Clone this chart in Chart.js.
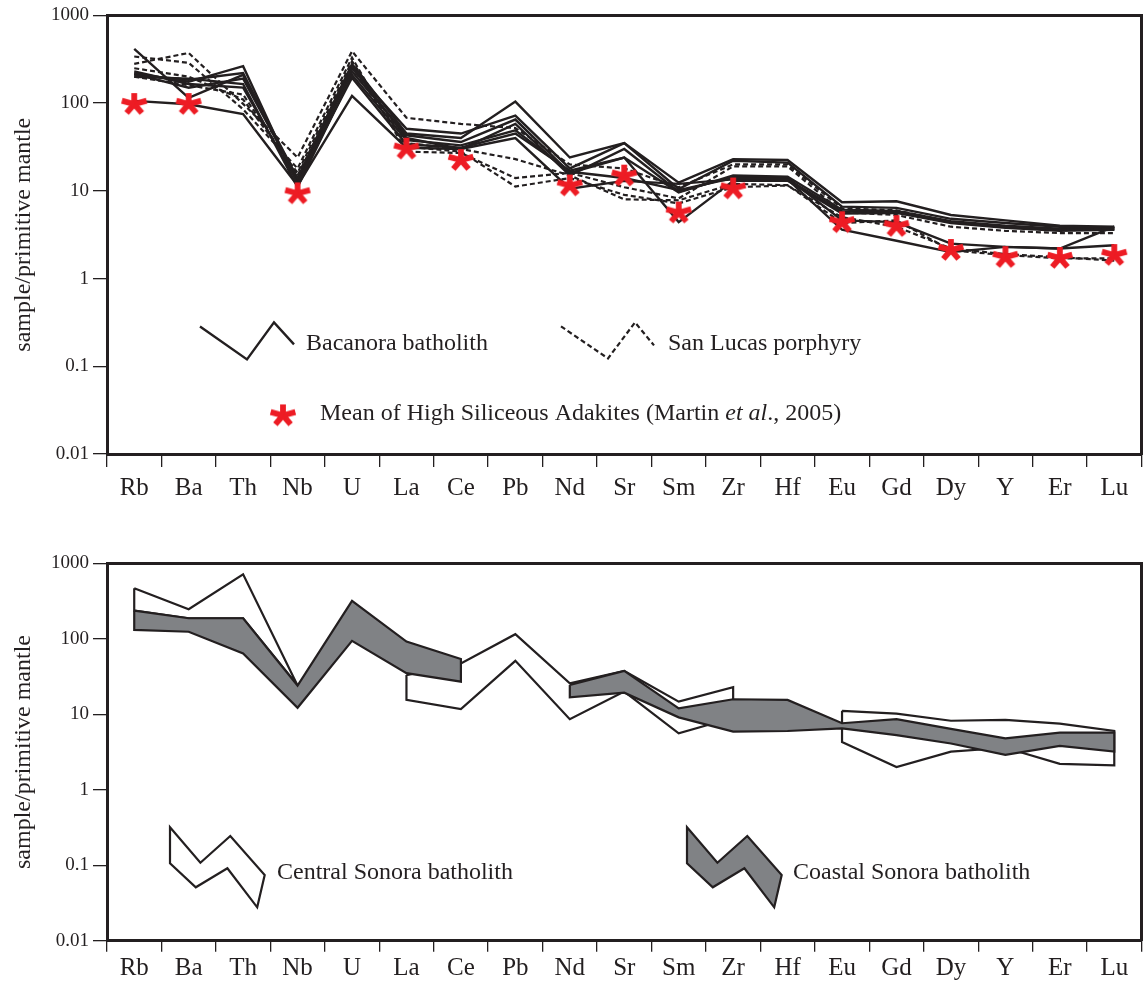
<!DOCTYPE html>
<html>
<head>
<meta charset="utf-8">
<script src="https://cdn.jsdelivr.net/npm/chart.js@4/dist/chart.umd.min.js"></script>
<style>
  html, body { margin: 0; padding: 0; background: #fff; }
  #wrap { position: relative; width: 1143px; height: 984px; }
  canvas { position: absolute; left: 0; }
  #spiderTop { top: 0; }
  #spiderBottom { top: 520px; }
</style>
</head>
<body>
<div id="wrap">
  <canvas id="spiderTop" width="1143" height="510"></canvas>
  <canvas id="spiderBottom" width="1143" height="464"></canvas>
</div>
<script>
// Trace elements, in spider-diagram order
const elements = ['Rb','Ba','Th','Nb','U','La','Ce','Pb','Nd','Sr','Sm','Zr','Hf','Eu','Gd','Dy','Y','Er','Lu'];
const yTickValues = [0.01, 0.1, 1, 10, 100, 1000];
const yTickLabels = ['0.01', '0.1', '1', '10', '100', '1000'];

// Bacanora batholith (primitive-mantle normalised)
const bacanora1 = [415, 115, 210, 14, 280, 45, 40, 104, 24, 35, 12.4, 23, 22.5, 7.4, 7.6, 5.3, 4.6, 4.0, 3.9];
const bacanora2 = [220, 175, 264, 12, 250, 51, 45, 72, 18, 35, 10.5, 22, 21, 6.6, 6.4, 4.8, 4.3, 3.9, 3.8];
const bacanora3 = [210, 185, 220, 13, 230, 43, 36, 65, 16, 24, 9.6, 15, 14.5, 6.1, 5.9, 4.5, 4.0, 3.7, 3.7];
const bacanora4 = [200, 190, 165, 11, 210, 38, 33, 49, 16.5, 14, 10.2, 14, 13.5, 5.8, 5.7, 4.4, 3.9, 3.6, 3.6];
const bacanora5 = [230, 165, 150, 12.5, 195, 34, 31, 45, 17, 24, 4.4, 13, 13, 5.5, 5.6, 4.3, 3.8, 3.5, 3.6];
const bacanora6 = [106, 97, 75, 11.5, 121, 31, 30, 40, 10.6, 13, 12, 13.5, 13.5, 3.6, 2.7, 2.0, 2.3, 2.2, 3.9];
const bacanora7 = [215, 150, 190, 13.5, 260, 40, 30, 58, 15, 30, 9.8, 14.5, 14, 4.6, 4.4, 2.5, 2.3, 2.2, 2.4];

// San Lucas porphyry
const sanLucas1 = [280, 373, 98, 24, 391, 68, 58, 52, 20, 18, 11, 20, 20, 6.3, 6.0, 4.4, 3.9, 3.6, 3.7];
const sanLucas2 = [340, 288, 85, 18, 330, 28, 27, 14, 16, 11, 8.2, 19, 19, 5.7, 5.3, 3.9, 3.5, 3.3, 3.3];
const sanLucas3 = [250, 200, 110, 16, 300, 35, 30, 23, 15, 8, 7.8, 12, 11.6, 4.3, 4.6, 2.1, 1.85, 1.7, 1.7];
const sanLucas4 = [200, 160, 125, 15, 260, 32, 28, 11.2, 14, 9, 7.2, 11, 11.5, 5.0, 3.9, 2.2, 1.9, 1.75, 1.6];

// Mean of high-silica adakites (Martin et al., 2005)
const adakiteMean = [100, 100, null, 9.6, null, 31, 23, null, 11.8, 15.3, 5.8, 10.9, null, 4.5, 4.06, 2.17, 1.8, 1.76, 1.9];

// Compositional fields, upper and lower envelopes (null = field absent)
const coastalUpper = [236, 187, 187, 24, 317, 92, 54, null, 24.5, 37.5, 12, 15.8, 15.5, 7.6, 8.6, 6.4, 4.8, 5.7, 5.7];
const coastalLower = [131, 124, 64, 12.2, 94, 35, 27, null, 16.8, 19.3, 9.1, 5.9, 6.0, 6.5, 5.3, 4.1, 2.9, 3.8, 3.2];
const centralUpper = [467, 246, 715, 24, null, 33, 47, 115, 25.7, 37.5, 14.7, 22.8, null, 11.1, 10.2, 8.2, 8.4, 7.5, 6.0];
const centralLower = [236, 187, 187, 24, null, 15.5, 11.7, 51, 8.6, 20, 5.6, 9, null, 4.3, 2.0, 3.2, 3.6, 2.2, 2.1];

const INK = '#231f20';
const STAR_RED = '#ed1c24';
const FIELD_GREY = '#808285';

Chart.defaults.font.family = "'Liberation Serif', 'Times New Roman', serif";
Chart.defaults.color = INK;

function toPoints(values) {
  return values.map((v, i) => ({ x: i, y: v })).filter(p => p.y != null);
}

// Split a field into closed outlines, one per run of defined elements
function fieldOutlines(upper, lower) {
  const outlines = [];
  let run = [];
  for (let i = 0; i <= upper.length; i++) {
    if (i < upper.length && upper[i] != null && lower[i] != null) {
      run.push(i);
    } else if (run.length) {
      const pts = run.map(j => ({ x: j, y: upper[j] }))
        .concat(run.slice().reverse().map(j => ({ x: j, y: lower[j] })));
      pts.push(pts[0]);
      outlines.push(pts);
      run = [];
    }
  }
  return outlines;
}

// Five-armed asterisk used as the adakite marker
function asteriskImage() {
  const c = document.createElement('canvas');
  c.width = 30; c.height = 30;
  const g = c.getContext('2d');
  g.strokeStyle = STAR_RED;
  g.lineWidth = 5.8;
  g.lineCap = 'butt';
  const cx = 15, cy = 16, rx = 13, ry = 11;
  for (let k = 0; k < 5; k++) {
    const t = -Math.PI / 2 + k * 2 * Math.PI / 5;
    g.beginPath();
    g.moveTo(cx, cy);
    g.lineTo(cx + rx * Math.cos(t), cy + ry * Math.sin(t));
    g.stroke();
  }
  return c;
}
const asterisk = asteriskImage();

function buildScales(opts) {
  return {
    x: {
      type: 'linear', min: -0.5, max: 18.5,
      afterBuildTicks: s => { s.ticks = elements.map((_, i) => ({ value: i })); },
      afterFit: s => { s.height = opts.xHeight; },
      grid: { offset: true, drawOnChartArea: false, tickLength: opts.xTickLen, tickWidth: 1.3, tickColor: INK, lineWidth: 1.3, color: INK },
      border: { width: 3, color: INK },
      ticks: { autoSkip: false, maxRotation: 0, minRotation: 0, padding: opts.xPad, color: INK, font: { size: 25 },
               callback: (v, i) => elements[i] }
    },
    y: {
      type: 'logarithmic', min: 0.01, max: 1000,
      afterBuildTicks: s => { s.ticks = yTickValues.map(v => ({ value: v })); },
      afterFit: s => { s.width = 107; },
      grid: { drawOnChartArea: false, tickLength: 14, tickWidth: 1.3, tickColor: INK, lineWidth: 1.3, color: INK },
      border: { width: 3, color: INK },
      ticks: { padding: 4, color: INK, font: { size: 19 }, callback: (v, i) => yTickLabels[i] },
      title: { display: true, text: 'sample/primitive mantle', color: INK, font: { size: 24 }, padding: { top: 9, bottom: 0 } }
    },
    xTop: {
      type: 'linear', position: 'top',
      afterFit: s => { s.height = 0; },
      ticks: { display: false },
      grid: { display: false, drawTicks: false },
      border: { width: 3, color: INK }
    },
    yRight: {
      type: 'linear', position: 'right',
      afterFit: s => { s.width = 0; },
      ticks: { display: false },
      grid: { display: false, drawTicks: false },
      border: { width: 3, color: INK }
    }
  };
}

function drawPath(ctx, ox, oy, pts) {
  ctx.beginPath();
  ctx.moveTo(ox + pts[0], oy + pts[1]);
  for (let k = 2; k < pts.length; k += 2) ctx.lineTo(ox + pts[k], oy + pts[k + 1]);
}

// Key for the upper diagram, placed inside the plot area
const topKey = {
  id: 'topKey',
  afterDraw(chart) {
    const ctx = chart.ctx, a = chart.chartArea;
    ctx.save();
    ctx.strokeStyle = INK;
    ctx.lineJoin = 'miter';
    ctx.lineWidth = 2.4;
    drawPath(ctx, a.left + 93, a.top + 311, [0, 0, 47, 33, 74, -4, 94, 18]);
    ctx.stroke();
    ctx.setLineDash([5, 3]);
    ctx.lineWidth = 2.2;
    drawPath(ctx, a.left + 454, a.top + 311, [0, 0, 47, 32, 74, -4, 93, 19]);
    ctx.stroke();
    ctx.setLineDash([]);
    ctx.drawImage(asterisk, a.left + 176 - 15, a.top + 399 - 15);

    ctx.fillStyle = INK;
    ctx.textBaseline = 'middle';
    ctx.textAlign = 'left';
    const serif = "'Liberation Serif', 'Times New Roman', serif";
    ctx.font = '24px ' + serif;
    ctx.fillText('Bacanora batholith', a.left + 199, a.top + 328);
    ctx.fillText('San Lucas porphyry', a.left + 561, a.top + 328);
    let x = a.left + 213;
    const y = a.top + 398;
    const parts = [['Mean of High Siliceous Adakites (Martin ', false], ['et al', true], ['., 2005)', false]];
    parts.forEach(([txt, italic]) => {
      ctx.font = (italic ? 'italic ' : '') + '24px ' + serif;
      ctx.fillText(txt, x, y);
      x += ctx.measureText(txt).width;
    });
    ctx.restore();
  }
};

// Key for the lower diagram
const bottomKey = {
  id: 'bottomKey',
  afterDraw(chart) {
    const ctx = chart.ctx, a = chart.chartArea;
    const icon = [0, 0, 30.4, 35.4, 60.3, 8.7, 94.7, 47.7, 87.2, 80, 57.4, 41, 25.8, 60, 0, 36];
    ctx.save();
    ctx.strokeStyle = INK;
    ctx.lineWidth = 2.2;
    ctx.lineJoin = 'miter';
    drawPath(ctx, a.left + 63, a.top + 264, icon);
    ctx.closePath();
    ctx.fillStyle = '#ffffff';
    ctx.fill();
    ctx.stroke();
    drawPath(ctx, a.left + 580, a.top + 264, icon);
    ctx.closePath();
    ctx.fillStyle = FIELD_GREY;
    ctx.fill();
    ctx.stroke();
    ctx.fillStyle = INK;
    ctx.textBaseline = 'middle';
    ctx.textAlign = 'left';
    ctx.font = "24px 'Liberation Serif', 'Times New Roman', serif";
    ctx.fillText('Central Sonora batholith', a.left + 170, a.top + 309);
    ctx.fillText('Coastal Sonora batholith', a.left + 686, a.top + 309);
    ctx.restore();
  }
};

function lineSet(values, dashed) {
  return {
    data: toPoints(values), xAxisID: 'x', yAxisID: 'y',
    borderColor: INK, borderWidth: dashed ? 2.2 : 2.4, borderDash: dashed ? [5, 3] : [],
    pointRadius: 0, fill: false, tension: 0
  };
}

const topDatasets = [
  { data: toPoints(adakiteMean), xAxisID: 'x', yAxisID: 'y', showLine: false,
    pointStyle: asterisk, pointRadius: 10, borderColor: STAR_RED, backgroundColor: STAR_RED }
]
  .concat([sanLucas1, sanLucas2, sanLucas3, sanLucas4].map(v => lineSet(v, true)))
  .concat([bacanora1, bacanora2, bacanora3, bacanora4, bacanora5, bacanora6, bacanora7].map(v => lineSet(v, false)));

new Chart(document.getElementById('spiderTop'), {
  type: 'line',
  data: { datasets: topDatasets },
  options: {
    responsive: false, animation: false, devicePixelRatio: 1,
    layout: { autoPadding: false, padding: { top: 12.7, right: 1.5, left: 0, bottom: 0 } },
    plugins: { legend: { display: false }, tooltip: { enabled: false } },
    scales: buildScales({ xHeight: 56, xTickLen: 13, xPad: 6 })
  },
  plugins: [topKey]
});

function fieldSets(upper, lower, fillColor) {
  return fieldOutlines(upper, lower).map(pts => ({
    data: pts, xAxisID: 'x', yAxisID: 'y',
    borderColor: INK, borderWidth: 2.2, backgroundColor: fillColor,
    pointRadius: 0, fill: 'shape', tension: 0, borderJoinStyle: 'miter'
  }));
}

new Chart(document.getElementById('spiderBottom'), {
  type: 'line',
  data: {
    // coastal field listed first so it is painted over the central field
    datasets: fieldSets(coastalUpper, coastalLower, FIELD_GREY)
      .concat(fieldSets(centralUpper, centralLower, '#ffffff'))
  },
  options: {
    responsive: false, animation: false, devicePixelRatio: 1,
    layout: { autoPadding: false, padding: { top: 43.3, right: 1.5, left: 0, bottom: 0 } },
    plugins: { legend: { display: false }, tooltip: { enabled: false } },
    scales: buildScales({ xHeight: 43.3, xTickLen: 11, xPad: 2 })
  },
  plugins: [bottomKey]
});
</script>
</body>
</html>
